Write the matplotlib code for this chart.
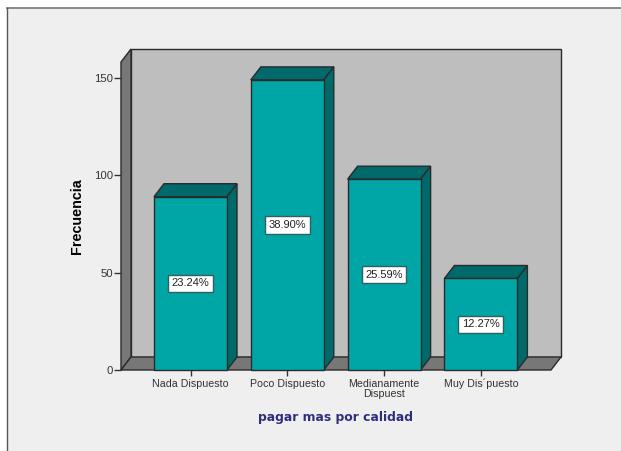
import matplotlib
matplotlib.use('Agg')
import matplotlib.pyplot as plt
from matplotlib.patches import Polygon, Rectangle
from matplotlib.lines import Line2D

categories = ['Nada Dispuesto', 'Poco Dispuesto', 'Medianamente\nDispuest', 'Muy Dis´puesto']
frecuencia = [89, 149, 98, 47]
porcentajes = ['23.24%', '38.90%', '25.59%', '12.27%']
yticks = [0, 50, 100, 150]

W, H = 621, 451
plt.rcParams['font.family'] = ['Liberation Sans', 'DejaVu Sans']

fig = plt.figure(figsize=(W / 100, H / 100), dpi=100, facecolor='white')

# grey panel of the chart window, runs off the right and bottom
fig.add_artist(Rectangle((7 / W, 0), 1 - 7 / W, 1 - 8 / H, transform=fig.transFigure,
                         facecolor='#efefef', edgecolor='none', zorder=-5))
fig.add_artist(Line2D([7 / W, 1], [1 - 8 / H, 1 - 8 / H], transform=fig.transFigure, color='#808080', lw=1.3))
fig.add_artist(Line2D([7 / W, 7 / W], [0, 1 - 8 / H], transform=fig.transFigure, color='#555555', lw=1.0))

# axes box is the front plane of the 3d look
left, right, bottom, top = 121, 551, 370, 62
ax = fig.add_axes([left / W, 1 - bottom / H, (right - left) / W, (bottom - top) / H])
ax.patch.set_visible(False)
for s in ax.spines.values():
    s.set_visible(False)

px_x = 96.8
px_y = 1.947
ax.set_xlim(-(190.5 - left) / px_x, (right - 190.5) / px_x)
ax.set_ylim(0, (bottom - top) / px_y)
x0, x1 = ax.get_xlim()
ymax = ax.get_ylim()[1]

# depth of the extrusion, in data units
dx = 10 / px_x
dy = 13 / px_y
ec = '#2a2a2a'


def poly(pts, color, z, lw=1.0, edge=ec):
    ax.add_patch(Polygon(pts, closed=True, facecolor=color, edgecolor=edge, lw=lw, zorder=z, clip_on=False))


# back wall, left wall, floor
poly([(x0 + dx, dy), (x1 + dx, dy), (x1 + dx, ymax + dy), (x0 + dx, ymax + dy)], '#bebebe', 1)
poly([(x0, 0), (x0 + dx, dy), (x0 + dx, ymax + dy), (x0, ymax)], '#777777', 2)
poly([(x0, 0), (x1, 0), (x1 + dx, dy), (x0 + dx, dy)], '#777777', 2)

bar_w = 73 / px_x
for i, v in enumerate(frecuencia):
    a, b = i - bar_w / 2, i + bar_w / 2
    poly([(a, v), (b, v), (b + dx, v + dy), (a + dx, v + dy)], '#006a6a', 3)
    poly([(b, 0), (b + dx, dy), (b + dx, v + dy), (b, v)], '#006a6a', 3)
    poly([(a, 0), (b, 0), (b, v), (a, v)], '#00a6a6', 4)
    ax.text(i, v / 2, porcentajes[i], ha='center', va='center', fontsize=8, color='#222222', zorder=6,
            bbox=dict(boxstyle='square,pad=0.32', facecolor='white', edgecolor='#2f5f5f', lw=1.0))

ax.set_xticks(range(len(categories)))
ax.set_xticklabels(categories, fontsize=7.7, color='#333333', linespacing=1.0)
ax.set_yticks(yticks)
ax.tick_params(axis='y', length=5, width=1, color='#333333', labelsize=8.2, labelcolor='#333333', pad=0.5)
ax.tick_params(axis='x', length=4.3, width=1, color='#333333', pad=2)

ax.set_ylabel('Frecuencia', fontsize=10.4, fontweight='bold', color='black', labelpad=0)
ax.yaxis.set_label_coords((84 - left) / (right - left), (bottom - 216) / (bottom - top))

fig.text(336 / W, 1 - 417 / H, 'pagar mas por calidad', ha='center', va='center', fontsize=8.9,
         fontweight='bold', color='#2e2e80', family='DejaVu Sans')

fig.savefig('out.png', dpi=100, facecolor=fig.get_facecolor())
